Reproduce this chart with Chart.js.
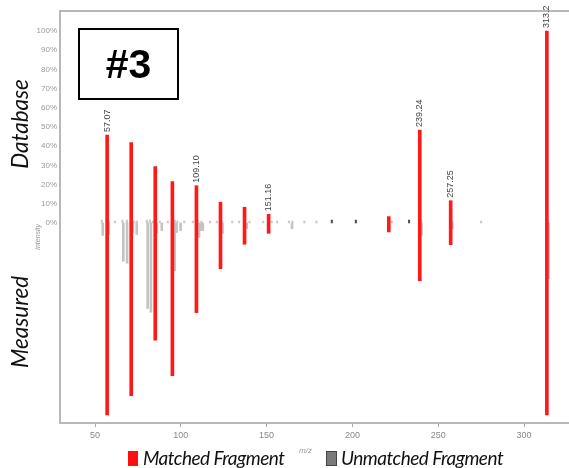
<!DOCTYPE html>
<html>
<head>
<meta charset="utf-8">
<script src="https://cdn.jsdelivr.net/npm/chart.js@4"></script>
<style>
  html, body { margin:0; padding:0; background:#fff; }
  #wrap { position:relative; width:569px; height:468px; overflow:hidden; }
  canvas { position:absolute; left:0; top:0; }
  .side { position:absolute; font-family:Lato, "Open Sans", sans-serif; font-style:italic; font-size:22.5px; color:#111; transform:translate(-50%,-50%) rotate(-90deg); white-space:nowrap; }
  .small { position:absolute; font-family:"Liberation Sans", Arial, sans-serif; font-style:italic; font-size:7px; color:#999; transform:translate(-50%,-50%) rotate(-90deg); white-space:nowrap; }
  #box { position:absolute; left:78px; top:28px; width:97px; height:68px; border:2px solid #000; box-sizing:content-box; display:flex; align-items:center; justify-content:center; font-family:"Liberation Sans", Arial, sans-serif; font-weight:bold; font-size:41px; color:#000; }
  .leg { position:absolute; top:446px; font-family:Lato, "Open Sans", sans-serif; font-style:italic; font-size:19px; letter-spacing:-0.5px; color:#111; white-space:nowrap; }
  .sw { position:absolute; top:451px; width:10px; height:15px; }
  #mz { position:absolute; left:299px; top:446px; font-family:"Liberation Sans", Arial, sans-serif; font-style:italic; font-size:8px; color:#999; }
</style>
</head>
<body>
<div id="wrap">
  <canvas id="c" width="569" height="468"></canvas>
  <div id="box">#3</div>
  <div class="side" style="left:19px; top:124px;">Database</div>
  <div class="side" style="left:19px; top:322px;">Measured</div>
  <div class="small" style="left:37px; top:237px;">Intensity</div>
  <div class="sw" style="left:128px; background:#ff1010;"></div>
  <div class="leg" style="left:143px;">Matched Fragment</div>
  <div id="mz">m/z</div>
  <div class="sw" style="left:326px; background:#7a7a7a; border:1px solid #444; width:9px; height:13px;"></div>
  <div class="leg" style="left:341px;">Unmatched Fragment</div>
</div>
<script>
// ---- data ----
const matchedMz      = [57.07, 71.09, 85.10, 95.09, 109.10, 123.12, 137.13, 151.16, 221.19, 239.24, 257.25, 313.30];
const matchedLabels  = ["57.07", "", "", "", "109.10", "", "", "151.16", "", "239.24", "257.25", "313.2"];
const matchedDb      = [45.8, 41.8, 29.3, 21.5, 19.4, 10.8, 8.2, 4.5, 3.3, 48.4, 11.6, 100];
const matchedMeas    = [100, 90, 61, 79.5, 46.7, 23.8, 11.1, 5.4, 4.7, 30, 11.3, 100];

const unmatchedMeasMz  = [54.5, 57.9, 66.5, 68.7, 72.0, 74.3, 80.7, 82.6, 85.9, 88.9, 96.4, 97.5, 99.9, 110.6, 111.6, 112.8, 124.3, 138.4, 164.8, 240.3, 258.2, 314.3];
const unmatchedMeasVal = [6.5, 6, 20, 21, 5, 6, 44.5, 46.5, 5, 4, 25, 5, 4, 7.5, 4, 4, 5.5, 3, 3, 6.5, 3, 29];

const unmatchedDbMz  = [54, 58, 61.6, 66, 68.6, 72.7, 74.4, 80.2, 82, 83.7, 87.8, 92.4, 96.5, 98, 102, 107, 110, 112, 117, 121, 124, 130, 134, 140, 148, 153, 156, 163, 165, 172, 179, 188, 202, 223, 233, 240, 258, 275, 314];
const unmatchedDbVal = [1.5, 1, 1, 1.5, 1.5, 1, 1, 1.5, 1.5, 1, 1, 1, 1.5, 1, 1, 1, 1.5, 1, 1, 1, 1, 1, 1, 1, 1, 1, 1, 1, 1, 1, 1, 1.5, 1.5, 1, 1.5, 1.5, 1, 1, 1.5];
const darkDbMz = [188, 202, 233];

const xTicks = [50, 100, 150, 200, 250, 300];
const yTicks = [0, 10, 20, 30, 40, 50, 60, 70, 80, 90, 100];

// ---- chart ----
const peakLabelPlugin = {
  id: 'peakLabels',
  afterDatasetsDraw(chart) {
    const ctx = chart.ctx, xs = chart.scales.x, ys = chart.scales.y, a = chart.chartArea;
    ctx.save();
    ctx.strokeStyle = '#b8b8b8'; ctx.lineWidth = 2;
    ctx.beginPath(); ctx.moveTo(a.left - 1, a.top); ctx.lineTo(a.right, a.top); ctx.stroke();
    ctx.fillStyle = '#444';
    ctx.font = '9px "Liberation Sans", Arial, sans-serif';
    ctx.textAlign = 'left'; ctx.textBaseline = 'middle';
    matchedMz.forEach((m, i) => {
      if (!matchedLabels[i]) return;
      const px = xs.getPixelForValue(m), py = ys.getPixelForValue(matchedDb[i]) - 3;
      ctx.save(); ctx.translate(px, py); ctx.rotate(-Math.PI / 2);
      ctx.fillText(matchedLabels[i], 0, 0);
      ctx.restore();
    });
    ctx.restore();
  }
};

new Chart(document.getElementById('c'), {
  type: 'bar',
  data: {
    datasets: [
      { label: 'Matched Fragment', data: matchedMz.map((m, i) => ({ x: m, y: [-matchedMeas[i], matchedDb[i]] })),
        backgroundColor: '#ff1a1a', barThickness: 3, grouped: false },
      { label: 'Unmatched Fragment', data: unmatchedMeasMz.map((m, i) => ({ x: m, y: [-unmatchedMeasVal[i], 0] })),
        backgroundColor: '#c4c4c4', barThickness: 2, grouped: false },
      { label: 'Unmatched DB', data: unmatchedDbMz.map((m, i) => ({ x: m, y: [0, unmatchedDbVal[i]] })),
        backgroundColor: c => (c.raw && darkDbMz.includes(c.raw.x)) ? '#555' : '#cacaca',
        barThickness: 1.5, grouped: false }
    ]
  },
  options: {
    responsive: false,
    animation: false,
    layout: { padding: { top: 11, left: 0, right: 0, bottom: 0 } },
    plugins: { legend: { display: false }, tooltip: { enabled: false } },
    scales: {
      x: {
        type: 'linear', min: 29.6, max: 326.2, offset: false,
        afterBuildTicks: s => { s.ticks = xTicks.map(v => ({ value: v })); },
        afterFit: s => { s.height = 45; },
        grid: { display: true, offset: false, drawOnChartArea: false, drawTicks: true, tickLength: 4, color: '#aaa' },
        border: { display: true, color: '#b8b8b8', width: 2 },
        ticks: { color: '#888', font: { size: 9, family: '"Liberation Sans", Arial, sans-serif' }, padding: 3, maxRotation: 0 }
      },
      y: {
        min: -104.2, max: 110.4,
        afterBuildTicks: s => { s.ticks = yTicks.map(v => ({ value: v })); },
        afterFit: s => { s.width = 60; },
        grid: { display: false, drawTicks: false },
        border: { display: true, color: '#b8b8b8', width: 2 },
        ticks: { color: '#999', font: { size: 8, family: '"Liberation Sans", Arial, sans-serif' }, padding: 3, callback: v => v + '%' }
      }
    }
  },
  plugins: [peakLabelPlugin]
});
</script>
</body>
</html>
